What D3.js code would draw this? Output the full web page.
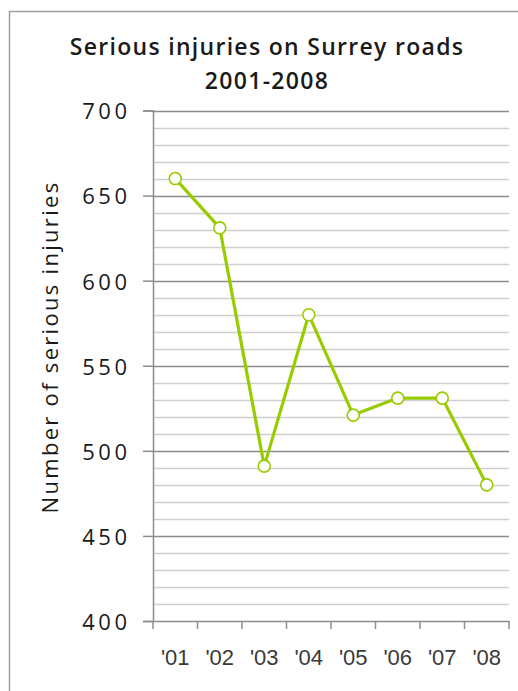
<!DOCTYPE html>
<html>
<head>
<meta charset="utf-8">
<script src="https://cdn.jsdelivr.net/npm/d3@7"></script>
<style>
  html, body { margin: 0; padding: 0; background: #fff; }
  svg { display: block; }
</style>
</head>
<body>
<script>
// Serious injuries on Surrey roads, 2001-2008
const years = ["'01", "'02", "'03", "'04", "'05", "'06", "'07", "'08"];
const injuries = [660, 631, 491, 580, 521, 531, 531, 480];
const yTicks = [400, 450, 500, 550, 600, 650, 700];
const titleLines = ["Serious injuries on Surrey roads", "2001-2008"];
const yTitle = "Number of serious injuries";

const W = 518, H = 691;
const margin = { left: 153, right: 9, top: 110.5, bottom: 70 };

const svg = d3.select("body").append("svg")
  .attr("width", W).attr("height", H);

// chart frame (top and left edges)
svg.append("path")
  .attr("d", `M9.5,${H} V11.5 H${W}`)
  .attr("fill", "none").attr("stroke", "#a0a0a0").attr("stroke-width", 1.5);

const x = d3.scaleBand().domain(years)
  .range([margin.left, W - margin.right]);
const y = d3.scaleLinear().domain([400, 700])
  .range([H - margin.bottom, margin.top]);

// horizontal gridlines every 10 units, darker at the labelled values
const gridVals = d3.range(410, 701, 10);
svg.append("g").selectAll("line").data(gridVals).join("line")
  .attr("x1", margin.left).attr("x2", W - margin.right)
  .attr("y1", d => Math.round(y(d)) + 0.5).attr("y2", d => Math.round(y(d)) + 0.5)
  .attr("stroke", d => d % 50 === 0 ? "#8c8c8c" : "#cfcfcf")
  .attr("stroke-width", 1.5);

// y axis
const yAxis = svg.append("g")
  .attr("transform", `translate(${margin.left},0)`)
  .call(d3.axisLeft(y).tickValues(yTicks).tickSize(10).tickPadding(12.5));
yAxis.select(".domain").attr("stroke", "#8c8c8c").attr("stroke-width", 1.5);
yAxis.selectAll(".tick line").attr("stroke", "#8c8c8c").attr("stroke-width", 1.5);
yAxis.selectAll(".tick text")
  .attr("font-family", "'Open Sans', 'DejaVu Sans', sans-serif")
  .attr("font-size", 22).attr("fill", "#1a1a1a")
  .attr("letter-spacing", 3.5)
  .attr("dy", "0.38em");

// x axis
const xAxis = svg.append("g")
  .attr("transform", `translate(0,${y(400)})`)
  .call(d3.axisBottom(x).tickSize(0).tickPadding(28));
xAxis.select(".domain").attr("stroke", "#8c8c8c").attr("stroke-width", 1.5);
xAxis.selectAll(".tick text")
  .attr("font-family", "'Liberation Sans', Arial, sans-serif")
  .attr("font-size", 22).attr("fill", "#3a3a3a");
// category boundary ticks
const bounds = years.map(d => x(d)).concat([x(years[years.length - 1]) + x.bandwidth()]);
xAxis.append("g").selectAll("line").data(bounds).join("line")
  .attr("x1", d => d).attr("x2", d => d)
  .attr("y1", 0).attr("y2", 8)
  .attr("stroke", "#8c8c8c").attr("stroke-width", 1.5);

// title
svg.append("g").selectAll("text").data(titleLines).join("text")
  .attr("x", 267).attr("y", (d, i) => 55 + i * 34)
  .attr("text-anchor", "middle")
  .attr("font-family", "'Open Sans', 'Noto Sans', sans-serif")
  .attr("font-weight", 600).attr("font-size", 23)
  .attr("letter-spacing", 1.3)
  .attr("fill", "#1a1a1a")
  .text(d => d);

// y axis title
svg.append("text")
  .attr("transform", `translate(58,347) rotate(-90)`)
  .attr("text-anchor", "middle")
  .attr("font-family", "'Open Sans', 'Noto Sans', sans-serif")
  .attr("font-size", 22).attr("fill", "#1a1a1a")
  .attr("letter-spacing", 2.3)
  .text(yTitle);

// data line
const cx = d => x(d) + x.bandwidth() / 2;
const line = d3.line().x((d, i) => cx(years[i])).y(d => y(d));
const green = "#99cc00";
svg.append("path").datum(injuries)
  .attr("d", line)
  .attr("fill", "none").attr("stroke", green)
  .attr("stroke-width", 3.2).attr("stroke-linejoin", "round");

svg.append("g").selectAll("circle").data(injuries).join("circle")
  .attr("cx", (d, i) => cx(years[i])).attr("cy", d => y(d))
  .attr("r", 6)
  .attr("fill", "#fff").attr("stroke", green).attr("stroke-width", 1.6);
</script>
</body>
</html>
